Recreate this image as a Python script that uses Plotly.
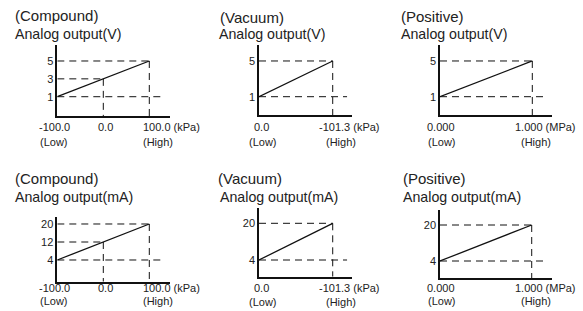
import plotly.graph_objects as go

W, H = 583, 311

# ---------------- data ----------------
pressure_types = ["(Compound)", "(Vacuum)", "(Positive)"]
output_titles = ["Analog output(V)", "Analog output(mA)"]
pressure_low = [-100.0, 0.0, 0.0]
pressure_high = [100.0, -101.3, 1.0]
pressure_mid = [0.0, None, None]
low_labels = ["-100.0", "0.0", "0.000"]
high_labels = ["100.0", "-101.3", "1.000"]
mid_labels = ["0.0", None, None]
units = ["(kPa)", "(kPa)", "(MPa)"]
low_text = "(Low)"
high_text = "(High)"
voltage_out = [1, 3, 5]    # low, mid, high
current_out = [4, 12, 20]  # low, mid, high

# ---------------- layout geometry (pixels) ----------------
geom = [
    dict(xd=(57.3, 170), yd=(45, 116), xr=(-100, 145), yr=(-1.16, 6.79)),
    dict(xd=(259, 351.7), yd=(45, 115), xr=(0, -127.4), yr=(-1.05, 6.79)),
    dict(xd=(440, 551.7), yd=(45, 115), xr=(0, 1.21), yr=(-1.05, 6.79)),
    dict(xd=(57.3, 170), yd=(216.7, 281.7), xr=(-100, 145), yr=(-5.64, 23.24)),
    dict(xd=(259, 351.7), yd=(208.3, 276.7), xr=(0, -127.4), yr=(-3.28, 26.54)),
    dict(xd=(440, 551.7), yd=(210, 278.3), xr=(0, 1.218), yr=(-3.69, 26.67)),
]
type_pos = [(13, 15.5), (218, 18), (399, 16.5), (13, 178), (216, 178.5), (401, 178)]
out_pos = [(13, 33.5), (217, 33.5), (399, 33.5), (13, 196.5), (218, 196.5), (401, 196.5)]
lab_rows = [(126.7, 141.7), (126.7, 141.7), (126.7, 141.7),
            (288, 301), (288.3, 301.7), (288.3, 301)]
shifts = [(-20, -19, -8.6, -8.6, -7.5), (-7.3, -12.3, -15.4, -8.7, 0),
          (-15, -14, -19, -13, 0)]

FONT = "Liberation Sans, Arial, sans-serif"
TXT = "#222222"
LINE = "#111111"
DASH = "7px,5px"

fig = go.Figure()
annotations = []

for k in range(6):
    r, c = divmod(k, 3)
    g = geom[k]
    sfx = "" if k == 0 else str(k + 1)
    xa, ya = "x" + sfx, "y" + sfx
    out = voltage_out if r == 0 else current_out
    lo, mid, hi = out
    xl, xh = pressure_low[c], pressure_high[c]
    y0 = g["yr"][0]
    x_ext = g["xr"][0] + 0.95 * (g["xr"][1] - g["xr"][0])

    dash_style = dict(color=LINE, width=1, dash=DASH)
    segs = [([xl, x_ext], [lo, lo]), ([xl, xh], [hi, hi]), ([xh, xh], [hi, y0])]
    if pressure_mid[c] is not None:
        xm = pressure_mid[c]
        segs += [([xl, xm], [mid, mid]), ([xm, xm], [mid, y0])]
    for sx, sy in segs:
        fig.add_trace(go.Scatter(x=sx, y=sy, mode="lines", line=dash_style,
                                 xaxis=xa, yaxis=ya, showlegend=False, hoverinfo="skip"))
    fig.add_trace(go.Scatter(x=[xl, xh], y=[lo, hi], mode="lines",
                             line=dict(color=LINE, width=1.3),
                             xaxis=xa, yaxis=ya, showlegend=False, hoverinfo="skip"))

    yvals = [lo, mid, hi] if pressure_mid[c] is not None else [lo, hi]

    fig.layout["xaxis" + sfx] = dict(
        domain=[g["xd"][0] / W, g["xd"][1] / W], range=list(g["xr"]),
        anchor=ya, showline=True, linecolor=LINE, linewidth=1.5, showgrid=False,
        zeroline=False, showticklabels=False, ticks="", fixedrange=True)
    fig.layout["yaxis" + sfx] = dict(
        domain=[1 - g["yd"][1] / H, 1 - g["yd"][0] / H], range=list(g["yr"]),
        anchor=xa, showline=True, linecolor=LINE, linewidth=1.5, showgrid=False,
        zeroline=False, ticks="", tickvals=yvals, ticktext=[str(v) for v in yvals],
        tickfont=dict(size=11, color=TXT, family=FONT), fixedrange=True)

    annotations.append(dict(text=pressure_types[c], xref="paper", yref="paper",
                            x=type_pos[k][0] / W, y=1 - type_pos[k][1] / H,
                            xanchor="left", yanchor="middle", showarrow=False,
                            font=dict(size=15, color=TXT, family=FONT)))
    annotations.append(dict(text=output_titles[r], xref="paper", yref="paper",
                            x=out_pos[k][0] / W, y=1 - out_pos[k][1] / H,
                            xanchor="left", yanchor="middle", showarrow=False,
                            font=dict(size=14.2, color=TXT, family=FONT)))
    ny, ly = lab_rows[k]
    s = shifts[c]
    lab_font = dict(size=11, color=TXT, family=FONT)
    items = [(xl, low_labels[c], ny, s[0]), (xl, low_text, ly, s[1]),
             (xh, high_labels[c] + " " + units[c], ny, s[2]), (xh, high_text, ly, s[3])]
    if pressure_mid[c] is not None:
        items.append((pressure_mid[c], mid_labels[c], ny, s[4]))
    for xv, t, yy, sh in items:
        annotations.append(dict(text=t, xref=xa, yref="paper", x=xv, y=1 - yy / H,
                                xanchor="left", yanchor="middle", xshift=sh,
                                showarrow=False, font=lab_font))

fig.update_layout(width=W, height=H, margin=dict(l=0, r=0, t=0, b=0),
                  paper_bgcolor="white", plot_bgcolor="white",
                  annotations=annotations, showlegend=False,
                  font=dict(family=FONT, color=TXT))

fig.write_html("out.html", config={"displayModeBar": False},
               post_script="document.body.style.margin='0';document.body.style.overflow='hidden';")
